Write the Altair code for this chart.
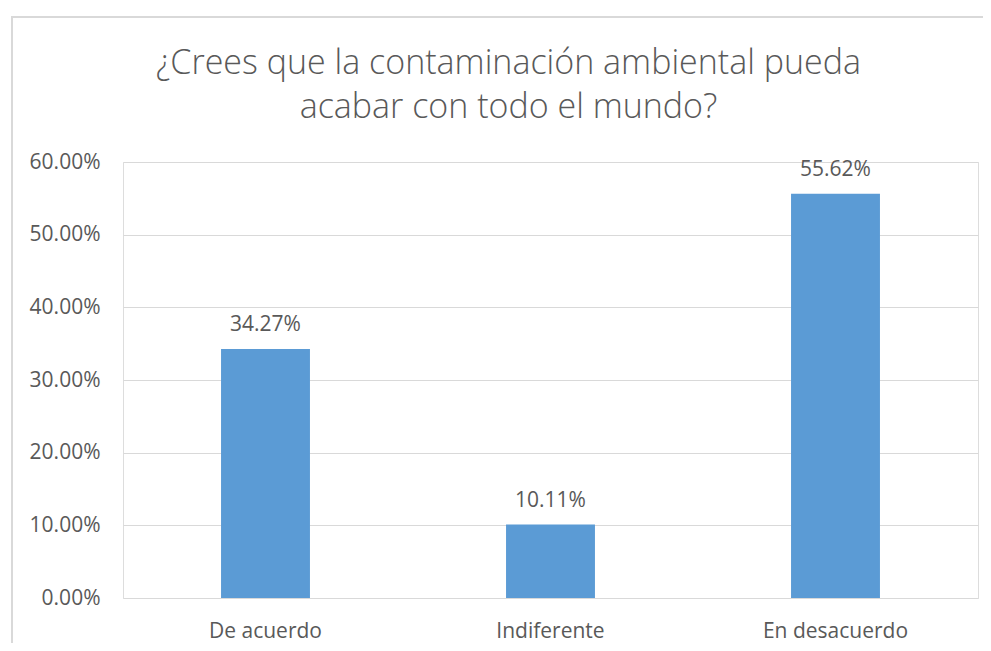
import altair as alt
import pandas as pd

categories = ["De acuerdo", "Indiferente", "En desacuerdo"]
values = [0.3427, 0.1011, 0.5562]
title_lines = ["¿Crees que la contaminación ambiental pueda", "acabar con todo el mundo?"]

df = pd.DataFrame({"cat": categories, "val": values})

FONT = "Open Sans"
GREY = "#595959"

x = alt.X("cat:N", sort=categories, title=None,
          scale=alt.Scale(paddingInner=0.688, paddingOuter=0.344),
          axis=alt.Axis(labelAngle=0, domain=False, ticks=False, tickSize=0,
                        labelPadding=22, labelFontSize=21, labelColor=GREY,
                        labelFont=FONT, grid=False))
y = alt.Y("val:Q", title=None,
          scale=alt.Scale(domain=[0, 0.6]),
          axis=alt.Axis(values=[0, 0.1, 0.2, 0.3, 0.4, 0.5, 0.6], format=".2%",
                        domain=False, ticks=False, tickSize=0, labelPadding=23,
                        labelFontSize=21, labelColor=GREY, labelFont=FONT,
                        gridColor="#d9d9d9", gridWidth=1))

frame = alt.Chart(df).mark_rect(fill=None, stroke="#d9d9d9", strokeWidth=2, clip=False).encode(
    x=alt.value(-111), x2=alt.value(1000), y=alt.value(-145), y2=alt.value(600))

bars = alt.Chart(df).mark_bar(color="#5b9bd5").encode(x=x, y=y)
labels = alt.Chart(df).mark_text(baseline="alphabetic", dy=-18, fontSize=21,
                                 font=FONT, color=GREY).encode(
    x=alt.X("cat:N", sort=categories), y="val:Q", text=alt.Text("val:Q", format=".2%"))

chart = alt.layer(frame, bars, labels).properties(
    width=855, height=436,
    autosize=alt.AutoSizeParams(type="none"),
    padding={"left": 115, "top": 154, "right": 5, "bottom": 45},
    title=alt.TitleParams(text=title_lines, font=FONT, fontSize=34, fontWeight=300,
                          color=GREY, anchor="middle", dx=-42, offset=-109,
                          lineHeight=44),
).configure_view(stroke=None).configure(background="white")

chart.save("out.html", embed_options={"renderer": "svg", "actions": False})
